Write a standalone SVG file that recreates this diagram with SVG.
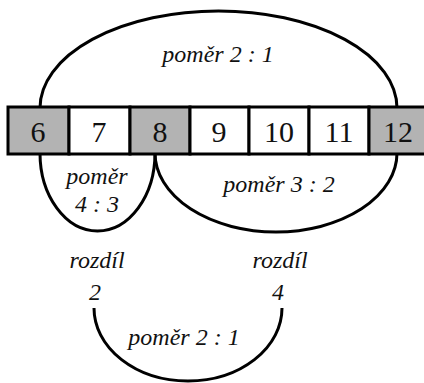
<svg xmlns="http://www.w3.org/2000/svg" width="424" height="383" viewBox="0 0 424 383">
<style>
.cell{stroke:#000;stroke-width:3}
.g{fill:#b3b3b3}
.w{fill:#fff}
.num{font-size:30px;text-anchor:middle;fill:#111}
.lbl{font-style:italic;font-size:24px;text-anchor:middle;fill:#111}
.arc{fill:none;stroke:#000;stroke-width:3}
</style>
<rect width="424" height="383" fill="#fff"/>
<g id="connectors">
<path class="arc" d="M40,108 A178.5,97 0 0 1 397,108"/>
<path class="arc" d="M40,153 A57.5,78 0 0 0 155,153"/>
<path class="arc" d="M155,153 A121,79 0 0 0 397,153"/>
<path class="arc" d="M94,308 A94,73 0 0 0 282,308"/>
</g>
<g font-family="Liberation Serif, serif">
<g id="cell6"><rect class="cell g" x="8" y="107" width="61" height="47"/><text class="num" x="38" y="142">6</text></g>
<g id="cell7"><rect class="cell w" x="69" y="107" width="61" height="47"/><text class="num" x="99" y="142">7</text></g>
<g id="cell8"><rect class="cell g" x="130" y="107" width="60" height="47"/><text class="num" x="160" y="142">8</text></g>
<g id="cell9"><rect class="cell w" x="190" y="107" width="59" height="47"/><text class="num" x="219" y="142">9</text></g>
<g id="cell10"><rect class="cell w" x="249" y="107" width="60" height="47"/><text class="num" x="279" y="142">10</text></g>
<g id="cell11"><rect class="cell w" x="309" y="107" width="60" height="47"/><text class="num" x="339" y="142">11</text></g>
<g id="cell12"><rect class="cell g" x="369" y="107" width="62" height="47"/><text class="num" x="398" y="142">12</text></g>
</g>
<g id="labels" font-family="Liberation Serif, serif">
<text class="lbl" x="218" y="62">poměr 2 : 1</text>
<text class="lbl" x="97" y="184">poměr</text>
<text class="lbl" x="97" y="212">4 : 3</text>
<text class="lbl" x="279" y="192">poměr 3 : 2</text>
<text class="lbl" x="97" y="268">rozdíl</text>
<text class="lbl" x="95" y="300">2</text>
<text class="lbl" x="280" y="268">rozdíl</text>
<text class="lbl" x="278" y="300">4</text>
<text class="lbl" x="184" y="345">poměr 2 : 1</text>
</g>
</svg>
